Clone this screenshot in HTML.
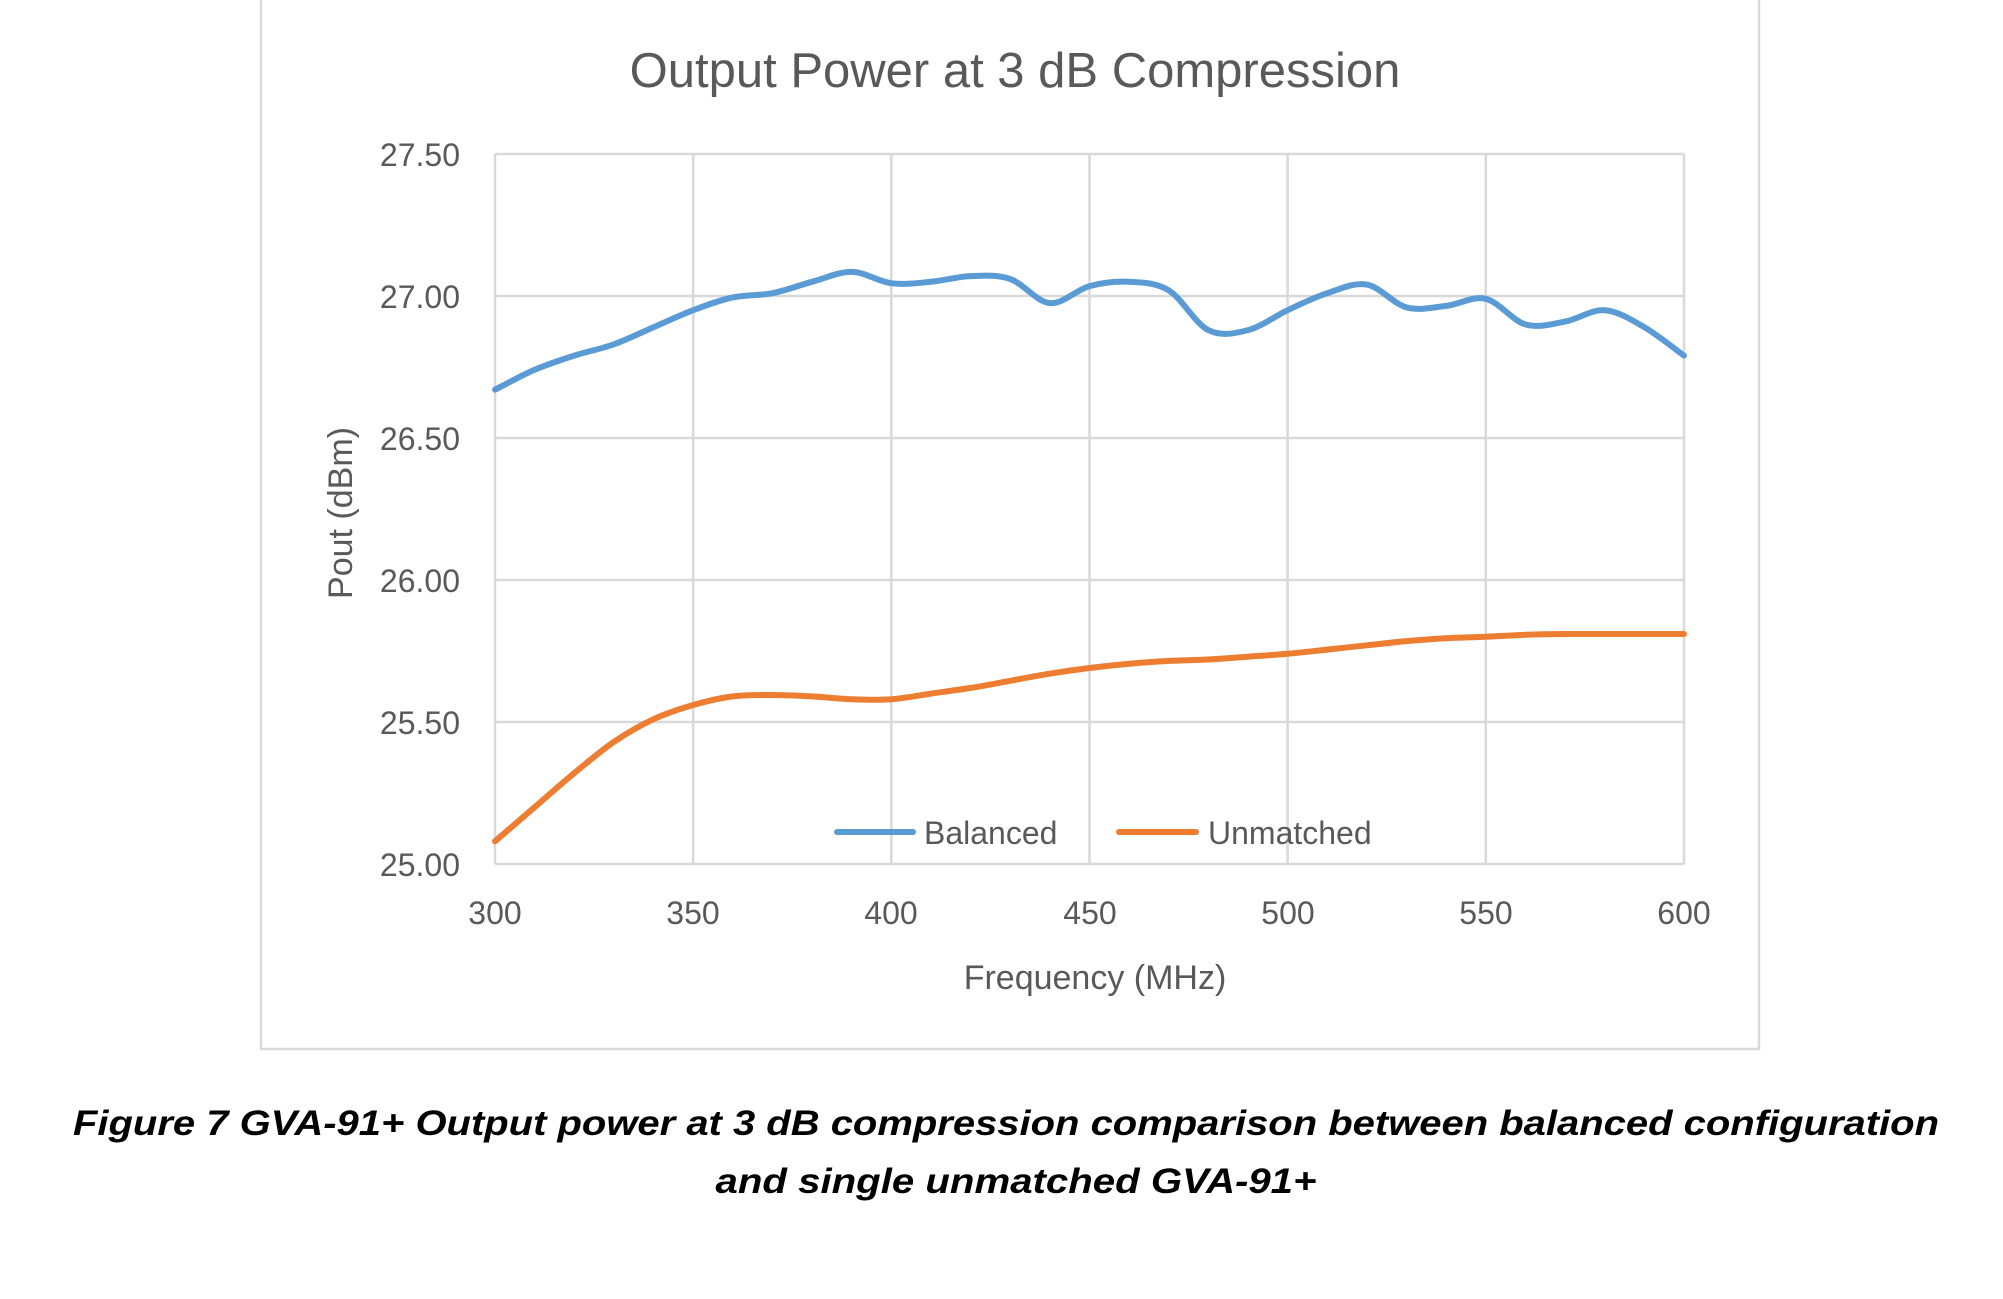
<!DOCTYPE html>
<html><head><meta charset="utf-8"><style>
html,body{margin:0;padding:0;background:#fff;}
svg{display:block;}
text{font-family:"Liberation Sans",sans-serif;}
</style></head><body>
<svg id="c" width="2003" height="1299" viewBox="0 0 2003 1299" xmlns="http://www.w3.org/2000/svg">
<rect x="261" y="-2" width="1498" height="1051" fill="#fff" stroke="#d9d9d9" stroke-width="2.5"/>
<text x="1015" y="87" font-size="49" fill="#595959" text-anchor="middle">Output Power at 3 dB Compression</text>
<g stroke="#d9d9d9" stroke-width="2.5">
<line x1="495" y1="154" x2="1684" y2="154"/>
<line x1="495" y1="296" x2="1684" y2="296"/>
<line x1="495" y1="438" x2="1684" y2="438"/>
<line x1="495" y1="580" x2="1684" y2="580"/>
<line x1="495" y1="722" x2="1684" y2="722"/>
<line x1="495" y1="864" x2="1684" y2="864"/>
<line x1="495" y1="154" x2="495" y2="864"/>
<line x1="693.2" y1="154" x2="693.2" y2="864"/>
<line x1="891.3" y1="154" x2="891.3" y2="864"/>
<line x1="1089.5" y1="154" x2="1089.5" y2="864"/>
<line x1="1287.6" y1="154" x2="1287.6" y2="864"/>
<line x1="1485.8" y1="154" x2="1485.8" y2="864"/>
<line x1="1684" y1="154" x2="1684" y2="864"/>
</g>
<g font-size="32" fill="#595959" text-anchor="end">
<text x="460" y="166">27.50</text>
<text x="460" y="308">27.00</text>
<text x="460" y="450">26.50</text>
<text x="460" y="592">26.00</text>
<text x="460" y="734">25.50</text>
<text x="460" y="876">25.00</text>
</g>
<g font-size="32" fill="#595959" text-anchor="middle">
<text x="495" y="924">300</text>
<text x="693" y="924">350</text>
<text x="891" y="924">400</text>
<text x="1090" y="924">450</text>
<text x="1288" y="924">500</text>
<text x="1486" y="924">550</text>
<text x="1684" y="924">600</text>
</g>
<text x="1095" y="989" font-size="34" fill="#595959" text-anchor="middle">Frequency (MHz)</text>
<text transform="translate(352,513) rotate(-90)" font-size="34" fill="#595959" text-anchor="middle">Pout (dBm)</text>
<polyline class="s" fill="none" stroke="#5B9BD5" stroke-width="6" stroke-linejoin="round" stroke-linecap="round" points="495,389.7 534.6,369.8 574.3,355.6 613.9,344.3 653.5,327.2 693.2,310.2 732.8,297.4 772.4,293.2 812,281.8 851.7,271.9 891.3,283.2 930.9,281.8 970.6,276.1 1010.2,279 1049.8,303.1 1089.5,286.1 1129.1,281.8 1168.7,290.3 1208.3,330.1 1248,330.1 1287.6,310.2 1327.2,293.2 1366.9,284.6 1406.5,307.4 1446.1,305.9 1485.8,298.8 1525.4,324.4 1565,321.6 1604.7,310.2 1644.3,327.2 1684,355.6"/>
<polyline class="s" fill="none" stroke="#ED7D31" stroke-width="6" stroke-linejoin="round" stroke-linecap="round" points="495,841.3 534.6,807.2 574.3,773.1 613.9,741.9 653.5,719.2 693.2,705 732.8,696.4 772.4,695 812,696.4 851.7,699.3 891.3,699.3 930.9,693.6 970.6,687.9 1010.2,680.8 1049.8,673.7 1089.5,668 1129.1,663.8 1168.7,660.9 1208.3,659.5 1248,656.7 1287.6,653.8 1327.2,649.6 1366.9,645.3 1406.5,641.1 1446.1,638.2 1485.8,636.8 1525.4,634.8 1565,634 1604.7,634 1644.3,634 1684,634"/>
<line x1="837" y1="832" x2="913" y2="832" stroke="#5B9BD5" stroke-width="6" stroke-linecap="round"/>
<text x="924" y="844" font-size="32" fill="#595959">Balanced</text>
<line x1="1119" y1="832" x2="1196" y2="832" stroke="#ED7D31" stroke-width="6" stroke-linecap="round"/>
<text x="1208" y="844" font-size="32" fill="#595959">Unmatched</text>
<text x="1006" y="1135" font-size="35" font-weight="bold" font-style="italic" fill="#000" text-anchor="middle" textLength="1866" lengthAdjust="spacingAndGlyphs">Figure 7 GVA-91+ Output power at 3 dB compression comparison between balanced configuration</text>
<text x="1016" y="1193" font-size="35" font-weight="bold" font-style="italic" fill="#000" text-anchor="middle" textLength="601" lengthAdjust="spacingAndGlyphs">and single unmatched GVA-91+</text>
</svg>
<script>
(function(){
var NS="http://www.w3.org/2000/svg";
var pls=document.querySelectorAll("polyline.s");
for(var k=0;k<pls.length;k++){
var pl=pls[k];
var pts=pl.getAttribute("points").trim().split(/\s+/).map(function(p){return p.split(",").map(Number);});
var d="M"+pts[0][0]+","+pts[0][1];
for(var i=0;i<pts.length-1;i++){
var p0=pts[i>0?i-1:i],p1=pts[i],p2=pts[i+1],p3=pts[i+2<pts.length?i+2:i+1];
var t=6;
var c1x=p1[0]+(p2[0]-p0[0])/t,c1y=p1[1]+(p2[1]-p0[1])/t;
var c2x=p2[0]-(p3[0]-p1[0])/t,c2y=p2[1]-(p3[1]-p1[1])/t;
d+=" C"+c1x.toFixed(1)+","+c1y.toFixed(1)+" "+c2x.toFixed(1)+","+c2y.toFixed(1)+" "+p2[0]+","+p2[1];
}
var path=document.createElementNS(NS,"path");
path.setAttribute("d",d);
["fill","stroke","stroke-width","stroke-linejoin","stroke-linecap"].forEach(function(a){path.setAttribute(a,pl.getAttribute(a));});
pl.parentNode.replaceChild(path,pl);
}
})();
</script>
</body></html>
